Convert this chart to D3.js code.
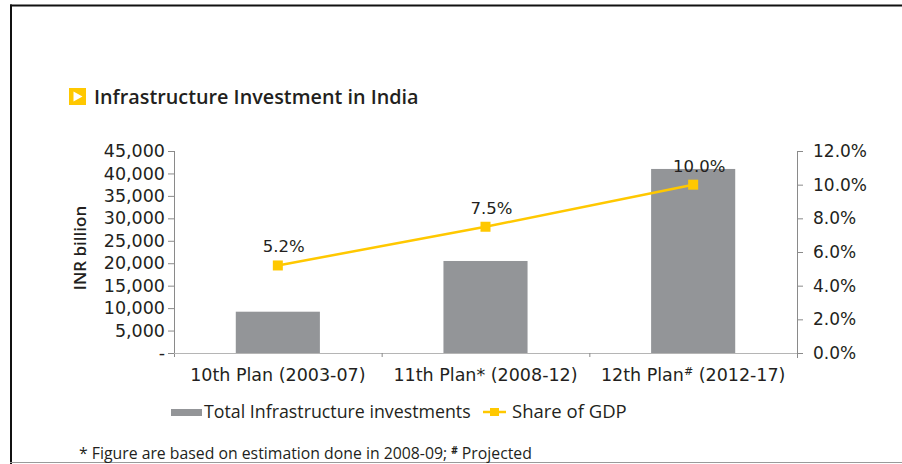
<!DOCTYPE html>
<html>
<head>
<meta charset="utf-8">
<script src="https://cdn.jsdelivr.net/npm/d3@7"></script>
<style>
  html, body { margin: 0; padding: 0; background: #fff; }
  svg { display: block; }
  text { fill: #231f20; }
</style>
</head>
<body>
<svg id="chart" width="902" height="464"></svg>
<script>
// Plan periods shown on the category axis
const plans = ["10th Plan (2003-07)", "11th Plan* (2008-12)", "12th Plan# (2012-17)"];
// Total infrastructure investment per plan, INR billion
const investment = [9200, 20500, 41000];
// Infrastructure investment as a share of GDP, percent
const gdpShare = [5.2, 7.5, 10.0];
// Axis ticks
const leftTicks = [0, 5000, 10000, 15000, 20000, 25000, 30000, 35000, 40000, 45000];
const rightTicks = [0, 2, 4, 6, 8, 10, 12];

const svg = d3.select("#chart");
const yellow = "#ffc800";
const barGrey = "#939598";
const axisGrey = "#8a8a8a";
const sans = "'Open Sans', 'Noto Sans', sans-serif";
const numFont = "'DejaVu Sans', sans-serif";

// Outer frame
svg.append("line").attr("x1", 10).attr("x2", 902).attr("y1", 5.5).attr("y2", 5.5)
  .attr("stroke", "#111").attr("stroke-width", 2);
svg.append("line").attr("x1", 11).attr("x2", 11).attr("y1", 4.5).attr("y2", 464)
  .attr("stroke", "#111").attr("stroke-width", 2);
svg.append("line").attr("x1", 10).attr("x2", 902).attr("y1", 462.5).attr("y2", 462.5)
  .attr("stroke", "#9a9a9a").attr("stroke-width", 1);

// Title with marker icon
svg.append("rect").attr("x", 69).attr("y", 88).attr("width", 17).attr("height", 17).attr("fill", yellow);
svg.append("path").attr("d", "M73.5,91.5 L82.5,96.5 L73.5,101.5 Z").attr("fill", "#fff");
svg.append("text").attr("x", 94).attr("y", 104)
  .style("font-family", sans).style("font-size", "19.8px").style("font-weight", 600)
  .text("Infrastructure Investment in India");

// Scales
const plot = { left: 174, right: 797, top: 151, bottom: 353 };
const x = d3.scaleBand().domain(plans).range([plot.left, plot.right]).padding(0);
const yL = d3.scaleLinear().domain([0, 45000]).range([plot.bottom, plot.top]);
const yR = d3.scaleLinear().domain([0, 12]).range([plot.bottom, plot.top]);
const barW = x.bandwidth() * 0.405;
const cx = d => x(d) + x.bandwidth() / 2;

// Bars
svg.append("g").selectAll("rect").data(plans).join("rect")
  .attr("x", d => cx(d) - barW / 2)
  .attr("y", (d, i) => yL(investment[i]))
  .attr("width", barW)
  .attr("height", (d, i) => yL(0) - yL(investment[i]))
  .attr("fill", barGrey);

// Left axis
const gL = svg.append("g").attr("transform", `translate(${plot.left},0)`)
  .call(d3.axisLeft(yL).tickValues(leftTicks).tickSize(6).tickPadding(3)
    .tickFormat(v => v === 0 ? "-" : d3.format(",")(v)));
gL.select(".domain").remove();
gL.selectAll(".tick line").attr("stroke", axisGrey);
gL.selectAll(".tick text").style("font-family", numFont).style("font-size", "17.5px")
  .attr("fill", "#231f20");

// Right axis
const gR = svg.append("g").attr("transform", `translate(${plot.right},0)`)
  .call(d3.axisRight(yR).tickValues(rightTicks).tickSize(6).tickPadding(10)
    .tickFormat(v => d3.format(".1f")(v) + "%"));
gR.select(".domain").remove();
gR.selectAll(".tick line").attr("stroke", axisGrey);
gR.selectAll(".tick text").style("font-family", numFont).style("font-size", "17px")
  .attr("fill", "#231f20");

// Axis lines
svg.append("line").attr("x1", plot.left + 0.5).attr("x2", plot.left + 0.5)
  .attr("y1", plot.top).attr("y2", plot.bottom + 4).attr("stroke", axisGrey);
svg.append("line").attr("x1", plot.right + 0.5).attr("x2", plot.right + 0.5)
  .attr("y1", plot.top).attr("y2", plot.bottom + 5).attr("stroke", axisGrey);
svg.append("line").attr("x1", plot.left).attr("x2", plot.right)
  .attr("y1", plot.bottom + 0.5).attr("y2", plot.bottom + 0.5).attr("stroke", "#b5b5b5");

// Category separators
svg.append("g").selectAll("line").data(plans.slice(1)).join("line")
  .attr("x1", d => x(d) + 0.5).attr("x2", d => x(d) + 0.5)
  .attr("y1", plot.bottom).attr("y2", plot.bottom + 4).attr("stroke", axisGrey);

// Category labels (the "#" mark is set as a superscript)
const catLabels = svg.append("g").selectAll("text").data(plans).join("text")
  .attr("x", d => cx(d)).attr("y", 381).attr("text-anchor", "middle")
  .style("font-family", numFont).style("font-size", "17.5px");
catLabels.each(function (d) {
  const t = d3.select(this);
  const k = d.indexOf("#");
  if (k < 0) { t.text(d); return; }
  t.append("tspan").text(d.slice(0, k));
  t.append("tspan").attr("dy", -6).style("font-size", "11px").text("#");
  t.append("tspan").attr("dy", 6).text(d.slice(k + 1));
});

// Y axis title
svg.append("text").attr("transform", "translate(86,248) rotate(-90)")
  .attr("text-anchor", "middle")
  .style("font-family", sans).style("font-size", "17px").style("font-weight", 600)
  .text("INR billion");

// Share of GDP line
const line = d3.line().x((d, i) => cx(plans[i])).y(d => yR(d));
svg.append("path").datum(gdpShare).attr("d", line)
  .attr("fill", "none").attr("stroke", yellow).attr("stroke-width", 2.5);
svg.append("g").selectAll("rect").data(gdpShare).join("rect")
  .attr("x", (d, i) => cx(plans[i]) - 5).attr("y", d => yR(d) - 5)
  .attr("width", 10).attr("height", 10).attr("fill", yellow);

// Data labels
svg.append("g").selectAll("text").data(gdpShare).join("text")
  .attr("x", (d, i) => cx(plans[i]) + 6).attr("y", d => yR(d) - 13)
  .attr("text-anchor", "middle")
  .style("font-family", numFont).style("font-size", "16.5px")
  .text(d => d3.format(".1f")(d) + "%");

// Legend
svg.append("rect").attr("x", 171).attr("y", 409).attr("width", 31).attr("height", 7).attr("fill", barGrey);
svg.append("text").attr("x", 204).attr("y", 418)
  .style("font-family", sans).style("font-size", "17.8px")
  .text("Total Infrastructure investments");
svg.append("line").attr("x1", 483).attr("x2", 506).attr("y1", 412).attr("y2", 412)
  .attr("stroke", yellow).attr("stroke-width", 2.5);
svg.append("rect").attr("x", 490).attr("y", 408).attr("width", 9).attr("height", 8).attr("fill", yellow);
svg.append("text").attr("x", 512).attr("y", 418)
  .style("font-family", sans).style("font-size", "18.5px")
  .text("Share of GDP");

// Footnote
const note = svg.append("text").attr("x", 79).attr("y", 459)
  .style("font-family", sans).style("font-size", "15.8px");
note.append("tspan").text("* Figure are based on estimation done in 2008-09; ");
note.append("tspan").attr("dy", -5).style("font-size", "10px").style("font-weight", 700).text("#");
note.append("tspan").attr("dy", 5).text(" Projected");
</script>
</body>
</html>
